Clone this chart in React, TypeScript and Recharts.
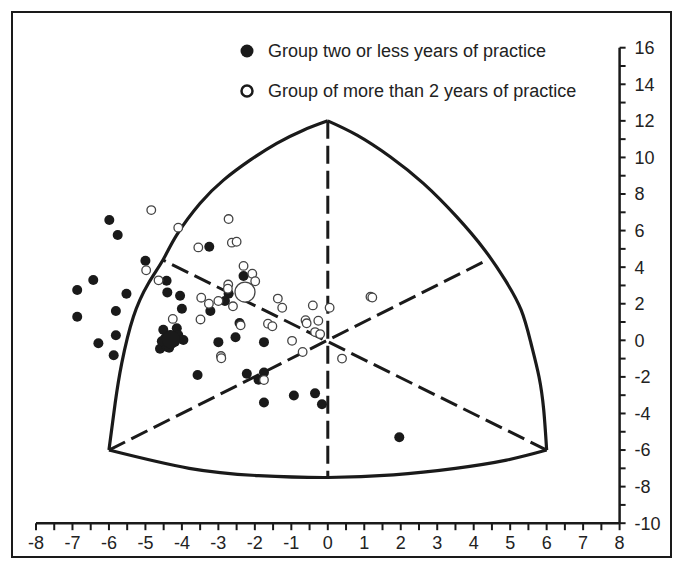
import React from 'react';
import { ComposedChart, Scatter, XAxis, YAxis } from 'recharts';

type Pt = { x: number; y: number };
const toPts = (a: number[][]): Pt[] => a.map(([x, y]) => ({ x, y }));

// group two or less years of practice (filled)
const groupTwoOrLess = toPts([
  [-5.99, 6.58], [-5.76, 5.76], [-6.43, 3.3], [-6.87, 2.75], [-6.87, 1.29],
  [-5.52, 2.55], [-5.81, 1.6], [-5.81, 0.28], [-6.29, -0.16], [-5.87, -0.82],
  [-5.0, 4.35], [-4.42, 3.26], [-4.4, 2.62], [-4.05, 2.44], [-4.0, 1.73],
  [-3.25, 5.12], [-2.31, 3.52], [-2.72, 2.55], [-2.82, 2.15], [-3.22, 1.6],
  [-3.0, -0.1], [-2.53, 0.17], [-1.75, -0.1], [-3.57, -1.9], [-2.22, -1.83],
  [-1.75, -1.76], [-1.9, -2.15], [-1.75, -3.4], [-0.93, -3.02], [-0.35, -2.9],
  [-0.16, -3.5], [1.96, -5.3], [-2.42, 0.95],
  [-4.51, 0.58], [-4.14, 0.66], [-3.96, 0.02], [-4.6, -0.46], [-4.42, -0.35],
  [-4.28, -0.16], [-4.46, 0.11], [-4.32, 0.29], [-4.19, -0.07], [-4.55, -0.05],
  [-4.1, 0.29], [-4.35, -0.4],
]);

// group of more than 2 years of practice (open)
const groupMoreThanTwo = toPts([
  [-4.84, 7.12], [-4.1, 6.16], [-4.98, 3.83], [-4.64, 3.28], [-4.25, 1.17],
  [-2.72, 6.63], [-2.63, 5.34], [-2.5, 5.39], [-3.55, 5.08], [-2.31, 4.07],
  [-2.07, 3.64], [-1.99, 3.23], [-2.73, 3.05], [-2.74, 2.82], [-3.47, 2.33],
  [-3.26, 2.0], [-3.0, 2.15], [-2.6, 1.86], [-3.49, 1.14], [-2.39, 0.82],
  [-1.64, 0.91], [-1.52, 0.77], [-1.37, 2.28], [-1.25, 1.78], [-0.41, 1.91],
  [0.05, 1.78], [-0.61, 1.1], [-0.58, 0.93], [-0.26, 1.07], [-0.35, 0.45],
  [-0.21, 0.34], [-0.98, -0.03], [-0.69, -0.64], [0.39, -1.0], [1.17, 2.38],
  [1.22, 2.34], [-2.93, -0.86], [-2.92, -0.98], [-1.75, -2.17],
]);

const meanTwoOrLess = toPts([[-4.3, 0.05]]);
const meanMoreThanTwo = toPts([[-2.27, 2.64]]);

// outline of the region
const leftEdge = toPts([
  [-6, -6], [-5.83, -3.44], [-5.65, -1.26], [-5.33, 1.29], [-4.92, 3.11],
  [-4.52, 4.39], [-4.14, 5.76], [-3.5, 7.49], [-2.86, 8.76], [-2.13, 9.85],
  [-1.4, 10.77], [-0.67, 11.49], [0, 12],
]);
const rightEdge = toPts([
  [0, 12], [0.8, 11.22], [1.71, 10.04], [2.62, 8.58], [3.53, 6.76],
  [4.3, 4.94], [4.86, 3.3], [5.3, 1.66], [5.57, -0.16], [5.79, -1.99],
  [5.92, -3.81], [6, -6],
]);
const bottomEdge = toPts([
  [-6, -6], [-3.8, -7.0], [-1.9, -7.4], [0, -7.5],
  [1.8, -7.36], [3.5, -7.0], [4.9, -6.55], [6, -6],
]);

const dashVertical = toPts([[0, 12], [0, -7.5]]);
const dashRising = toPts([[-6, -6], [4.38, 4.4]]);
const dashFalling = toPts([[6, -6], [-4.52, 4.39]]);

const xTicks = [
  -8, -7.5, -7, -6.5, -6, -5.5, -5, -4.5, -4, -3.5, -3, -2.5, -2, -1.5, -1, -0.5, 0,
  0.5, 1, 1.5, 2, 2.5, 3, 3.5, 4, 4.5, 5, 5.5, 6, 6.5, 7, 7.5, 8,
];
const yTicks = [
  -10, -9, -8, -7, -6, -5, -4, -3, -2, -1, 0, 1, 2, 3, 4, 5, 6, 7, 8, 9, 10, 11, 12, 13, 14, 15, 16,
];

const INK = '#1a1a1a';
const FONT = '"Liberation Sans", Arial, sans-serif';

const noDot = () => <g />;
const filledDot = (p: any) => <circle cx={p.cx} cy={p.cy} r={5} fill={INK} />;
const openDot = (p: any) => (
  <circle cx={p.cx} cy={p.cy} r={4.3} fill="#fff" stroke="#444" strokeWidth={1.3} />
);
const bigFilled = (p: any) => <circle cx={p.cx} cy={p.cy} r={9} fill={INK} />;
const bigOpen = (p: any) => (
  <circle cx={p.cx} cy={p.cy} r={10} fill="#fff" stroke="#444" strokeWidth={1.3} />
);

const solid = { stroke: INK, strokeWidth: 3.2, fill: 'none' };
const dashed = { stroke: INK, strokeWidth: 3, strokeDasharray: '18 7', fill: 'none' };

export default function App() {
  return (
    <div style={{ position: 'absolute', left: 0, top: 0, width: 682, height: 565, background: '#fff' }}>
      <div
        style={{
          position: 'absolute', left: 11, top: 11, width: 657, height: 543,
          border: `2px solid ${INK}`,
        }}
      />
      <ComposedChart
        width={682}
        height={565}
        margin={{ top: 47.7, left: 36, right: 12.4, bottom: 11.8 }}
        style={{ position: 'absolute', left: 0, top: 0, fontFamily: FONT }}
      >
        <XAxis
          type="number"
          dataKey="x"
          domain={[-8, 8]}
          ticks={xTicks}
          interval={0}
          height={30}
          tickSize={7}
          tickMargin={6}
          tickFormatter={(v: number) => (Number.isInteger(v) ? String(v) : '')}
          axisLine={{ stroke: INK, strokeWidth: 2.5 }}
          tickLine={{ stroke: INK, strokeWidth: 2 }}
          tick={{ fill: '#222', fontSize: 18, fontFamily: FONT }}
          allowDataOverflow
        />
        <YAxis
          type="number"
          dataKey="y"
          orientation="right"
          domain={[-10, 16]}
          ticks={yTicks}
          interval={0}
          width={50}
          tickSize={6}
          tickMargin={9}
          tickFormatter={(v: number) => (v % 2 === 0 ? String(v) : '')}
          axisLine={{ stroke: INK, strokeWidth: 2.5 }}
          tickLine={{ stroke: INK, strokeWidth: 2 }}
          tick={{ fill: '#222', fontSize: 18, fontFamily: FONT }}
          allowDataOverflow
        />
        <Scatter data={leftEdge} line={solid} lineJointType="natural" shape={noDot} isAnimationActive={false} />
        <Scatter data={rightEdge} line={solid} lineJointType="natural" shape={noDot} isAnimationActive={false} />
        <Scatter data={bottomEdge} line={solid} lineJointType="natural" shape={noDot} isAnimationActive={false} />
        <Scatter data={dashVertical} line={dashed} shape={noDot} isAnimationActive={false} />
        <Scatter data={dashRising} line={dashed} shape={noDot} isAnimationActive={false} />
        <Scatter data={dashFalling} line={dashed} shape={noDot} isAnimationActive={false} />
        <Scatter name="Group two or less years of practice" data={groupTwoOrLess} shape={filledDot} isAnimationActive={false} />
        <Scatter data={meanTwoOrLess} shape={bigFilled} isAnimationActive={false} />
        <Scatter name="Group of more than 2 years of practice" data={groupMoreThanTwo} shape={openDot} isAnimationActive={false} />
        <Scatter data={meanMoreThanTwo} shape={bigOpen} isAnimationActive={false} />
      </ComposedChart>
      <div style={{ position: 'absolute', left: 238, top: 40, fontFamily: FONT, fontSize: 18, color: '#222', lineHeight: '22px' }}>
        <div style={{ display: 'flex', alignItems: 'center', height: 22 }}>
          <svg width={20} height={22}><circle cx={9} cy={11} r={6.5} fill={INK} /></svg>
          <span style={{ marginLeft: 10 }}>Group two or less years of practice</span>
        </div>
        <div style={{ display: 'flex', alignItems: 'center', height: 22, marginTop: 18 }}>
          <svg width={20} height={22}><circle cx={9} cy={11} r={5.5} fill="#fff" stroke={INK} strokeWidth={2.5} /></svg>
          <span style={{ marginLeft: 10 }}>Group of more than 2 years of practice</span>
        </div>
      </div>
    </div>
  );
}
